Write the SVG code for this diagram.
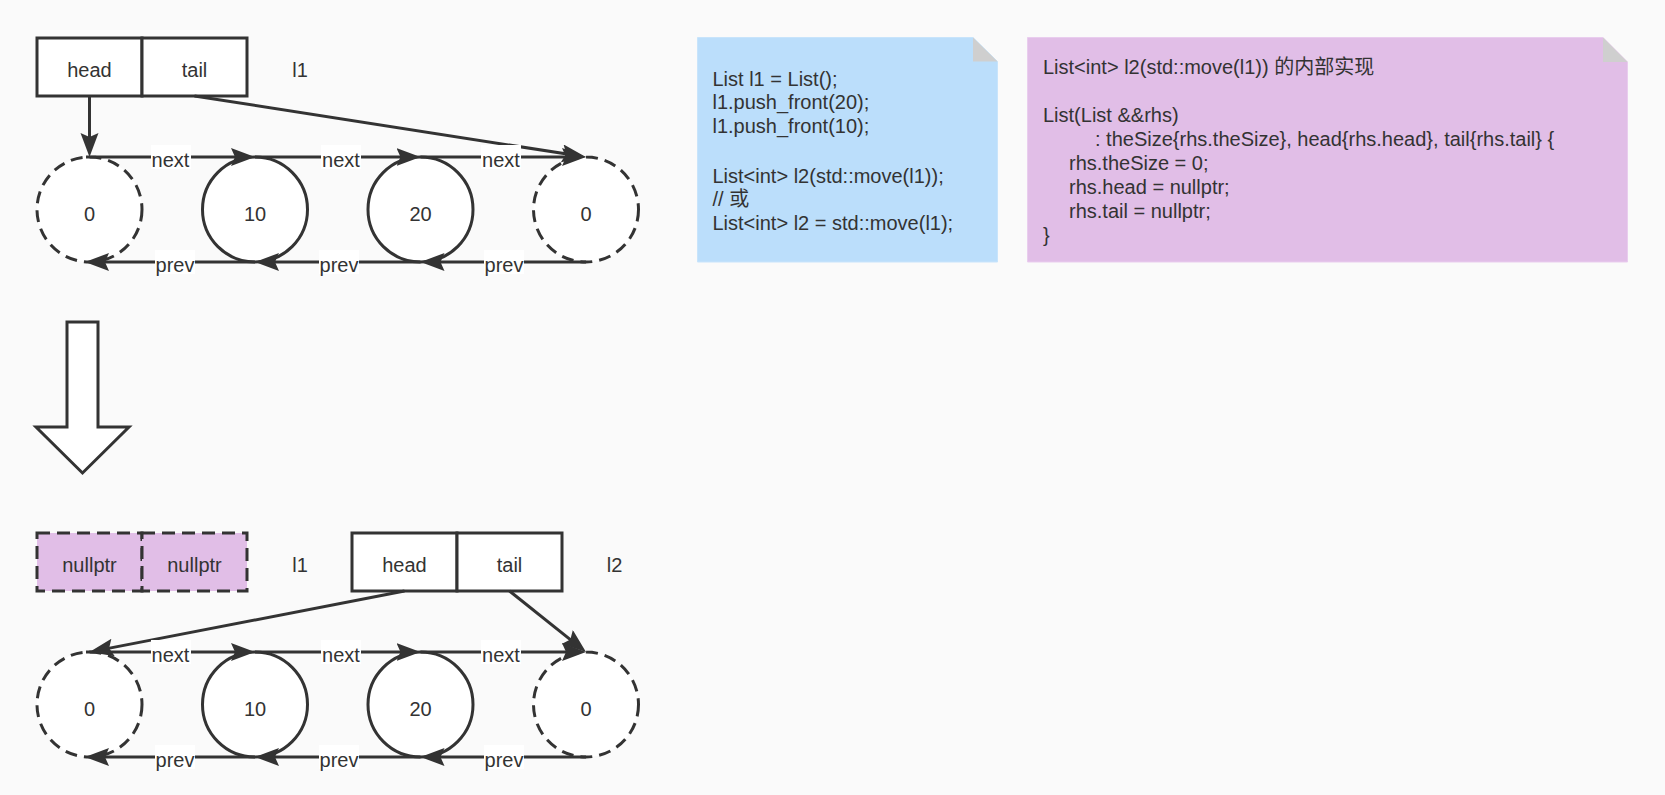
<svg xmlns="http://www.w3.org/2000/svg" width="1665" height="795" viewBox="0 0 1665 795">
<style>
.t{font-family:"Liberation Sans","Noto Sans CJK SC",sans-serif;font-size:20px;fill:#333;text-anchor:middle}
.n{font-family:"Liberation Sans","Noto Sans CJK SC",sans-serif;font-size:20px;fill:#333}
.box{fill:#fff;stroke:#333;stroke-width:3}
.dbox{fill:#E1BEE7;stroke:#333;stroke-width:3;stroke-dasharray:13 7}
.c{fill:#fff;stroke:#333;stroke-width:3}
.dash{stroke-dasharray:12 7}
.e{fill:none;stroke:#333;stroke-width:3;marker-end:url(#arr)}
.lb{fill:#fff}
</style>
<defs>
<marker id="arr" markerUnits="userSpaceOnUse" markerWidth="26" markerHeight="20" refX="18" refY="9" orient="auto">
<path d="M0,0 L24,9 L0,18 L4,9 Z" fill="#333"/>
</marker>
</defs>
<rect x="0" y="0" width="1665" height="795" fill="#fafafa"/>

<!-- top section -->
<g id="l1-head"><rect class="box" x="37" y="38" width="105" height="58"/><text class="t" x="89.5" y="77">head</text></g>
<g id="l1-tail"><rect class="box" x="142" y="38" width="105" height="58"/><text class="t" x="194.5" y="77">tail</text></g>
<g id="l1-label"><text class="t" x="300" y="77">l1</text></g>

<g id="t-n0"><circle class="c dash" cx="89.5" cy="209.5" r="52.5"/><text class="t" x="89.5" y="220.5">0</text></g>
<g id="t-n10"><circle class="c" cx="255" cy="209.5" r="52.5"/><text class="t" x="255" y="220.5">10</text></g>
<g id="t-n20"><circle class="c" cx="420.5" cy="209.5" r="52.5"/><text class="t" x="420.5" y="220.5">20</text></g>
<g id="t-n3"><circle class="c dash" cx="586" cy="209.5" r="52.5"/><text class="t" x="586" y="220.5">0</text></g>

<g id="arrow-down"><path d="M67,322 H98 V427 H129 L82.5,473 L36,427 H67 Z" fill="#fff" stroke="#333" stroke-width="3" stroke-linejoin="miter"/></g>

<!-- bottom section -->
<g id="l1-null-head"><rect class="dbox" x="37" y="533" width="105" height="58"/><text class="t" x="89.5" y="572">nullptr</text></g>
<g id="l1-null-tail"><rect class="dbox" x="142" y="533" width="105" height="58"/><text class="t" x="194.5" y="572">nullptr</text></g>
<g id="l1-label-b"><text class="t" x="300" y="572">l1</text></g>
<g id="l2-head"><rect class="box" x="352" y="533" width="105" height="58"/><text class="t" x="404.5" y="572">head</text></g>
<g id="l2-tail"><rect class="box" x="457" y="533" width="105" height="58"/><text class="t" x="509.5" y="572">tail</text></g>
<g id="l2-label"><text class="t" x="614.5" y="572">l2</text></g>

<g id="b-n0"><circle class="c dash" cx="89.5" cy="704.5" r="52.5"/><text class="t" x="89.5" y="715.5">0</text></g>
<g id="b-n10"><circle class="c" cx="255" cy="704.5" r="52.5"/><text class="t" x="255" y="715.5">10</text></g>
<g id="b-n20"><circle class="c" cx="420.5" cy="704.5" r="52.5"/><text class="t" x="420.5" y="715.5">20</text></g>
<g id="b-n3"><circle class="c dash" cx="586" cy="704.5" r="52.5"/><text class="t" x="586" y="715.5">0</text></g>

<!-- connectors -->
<g id="connectors">
<path class="e" d="M89.5,96 V151"/>
<path class="e" d="M194.5,96 L580,156.1"/>
<path class="e" d="M86,157 H249"/>
<path class="e" d="M255,157 H414.5"/>
<path class="e" d="M420.5,157 H580"/>
<path class="e" d="M586,262 H426.5"/>
<path class="e" d="M420.5,262 H261"/>
<path class="e" d="M255,262 H91"/>
<rect class="lb" x="151" y="145" width="40" height="24"/><text class="t" x="170.5" y="167">next</text>
<rect class="lb" x="321" y="145" width="40" height="24"/><text class="t" x="341" y="167">next</text>
<rect class="lb" x="481" y="145" width="40" height="24"/><text class="t" x="501" y="167">next</text>
<rect class="lb" x="155" y="250" width="40" height="24"/><text class="t" x="175" y="272">prev</text>
<rect class="lb" x="319" y="250" width="40" height="24"/><text class="t" x="339" y="272">prev</text>
<rect class="lb" x="484" y="250" width="40" height="24"/><text class="t" x="504" y="272">prev</text>

<path class="e" d="M404.5,591 L95.4,650.9"/>
<path class="e" d="M509.5,591 L581.3,648.3"/>
<path class="e" d="M86,652 H249"/>
<path class="e" d="M255,652 H414.5"/>
<path class="e" d="M420.5,652 H580"/>
<path class="e" d="M586,757 H426.5"/>
<path class="e" d="M420.5,757 H261"/>
<path class="e" d="M255,757 H91"/>
<rect class="lb" x="151" y="640" width="40" height="24"/><text class="t" x="170.5" y="662">next</text>
<rect class="lb" x="321" y="640" width="40" height="24"/><text class="t" x="341" y="662">next</text>
<rect class="lb" x="481" y="640" width="40" height="24"/><text class="t" x="501" y="662">next</text>
<rect class="lb" x="155" y="745" width="40" height="24"/><text class="t" x="175" y="767">prev</text>
<rect class="lb" x="319" y="745" width="40" height="24"/><text class="t" x="339" y="767">prev</text>
<rect class="lb" x="484" y="745" width="40" height="24"/><text class="t" x="504" y="767">prev</text>
</g>

<!-- notes -->
<g id="note-usage">
<path d="M697.5,37.5 H973 L997.5,61.5 V262 H697.5 Z" fill="#BBDEFB" stroke="#c8e4fb" stroke-width="1"/>
<path d="M973,37.5 V61.5 H997.5 Z" fill="#cfcfcf"/>
<text class="n" x="712.5" y="86">List l1 = List();</text>
<text class="n" x="712.5" y="109">l1.push_front(20);</text>
<text class="n" x="712.5" y="132.5">l1.push_front(10);</text>
<text class="n" x="712.5" y="182.5">List&lt;int&gt; l2(std::move(l1));</text>
<text class="n" x="712.5" y="206">// 或</text>
<text class="n" x="712.5" y="229.5">List&lt;int&gt; l2 = std::move(l1);</text>
</g>
<g id="note-impl">
<path d="M1027.5,37.5 H1603 L1627.5,62 V262 H1027.5 Z" fill="#E1BEE7" stroke="#e9cdee" stroke-width="1"/>
<path d="M1603,37.5 V62 H1627.5 Z" fill="#cfcfcf"/>
<text class="n" x="1043" y="74">List&lt;int&gt; l2(std::move(l1)) 的内部实现</text>
<text class="n" x="1043" y="122">List(List &amp;&amp;rhs)</text>
<text class="n" x="1095" y="146">: theSize{rhs.theSize}, head{rhs.head}, tail{rhs.tail} {</text>
<text class="n" x="1069" y="170">rhs.theSize = 0;</text>
<text class="n" x="1069" y="194">rhs.head = nullptr;</text>
<text class="n" x="1069" y="217.5">rhs.tail = nullptr;</text>
<text class="n" x="1043" y="241.5">}</text>
</g>
</svg>
